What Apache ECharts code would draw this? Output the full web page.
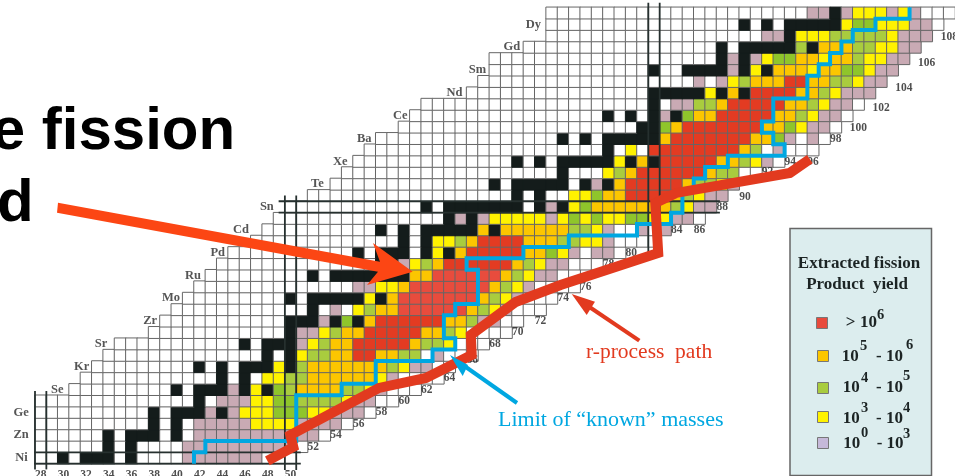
<!DOCTYPE html>
<html>
<head>
<meta charset="utf-8">
<style>html,body{margin:0;padding:0;background:#fff;overflow:hidden}#c{width:955px;height:476px}</style>
<script src="https://cdn.jsdelivr.net/npm/echarts@6/dist/echarts.min.js"></script>
</head>
<body>
<div id="c"></div>
<script>
// neutron numbers and proton numbers of the chart
const neutronNumbers = []; for (let n = 28; n <= 108; n++) neutronNumbers.push(n);
const protonNumbers = []; for (let z = 28; z <= 67; z++) protonNumbers.push(z);

// yield class of each cell, by row: "N+code" opens a run of cells, the last number closes the row
// w none, k stable, p 10^0-10^3, y 10^3-10^4, g/G 10^4-10^5, o 10^5-10^6, r/R >10^6
const cellRuns = {
28:"28w 30k 31w 32k 35w 36k 37w 41p 48w 51",
29:"28w 34k 35w 36k 37w 41p 51w 52",
30:"28w 34k 35w 36k 39w 40k 41w 42p 53w 54",
31:"28w 38k 39w 40k 41w 42p 47y 51p 55w 56",
32:"28w 38k 39w 40k 43p 44k 45p 46y 49G 52y 54p 57w 58",
33:"28w 42k 43w 44p 47y 49G 51g 55y 56p 58w 60",
34:"31w 40k 41w 42k 45p 46k 47y 48k 49G 50g 51o 55g 57y 58p 59w 62",
35:"32w 44k 45w 46k 47w 48y 50g 52o 58y 59p 60w 64",
36:"33w 42k 43w 44k 45w 46k 49y 50k 51g 52o 59g 60y 61p 63w 65",
37:"34w 48k 49w 50k 51y 52g 54o 56R 58o 60g 62w 63p 64w 67",
38:"35w 46k 47w 48k 51p 52y 53g 54o 56R 61o 62g 64y 65w 68",
39:"38w 50k 51p 53y 54g 55o 57R 62o 64g 65y 66w 70",
40:"39w 50k 53p 54k 55G 56k 57o 58R 64o 66g 67p 69w 71",
41:"40w 52k 53w 54p 55w 56y 57g 58o 60r 66o 67g 68y 69p 70w 73",
42:"41w 50k 51w 52k 57y 58k 59o 60r 67o 68g 69y 70p 71w 74",
43:"42w 56p 58y 60o 61r 68o 69g 70y 71p 72w 76",
44:"43w 52k 53w 54k 61o 63r 69o 70g 71y 72p 74w 76",
45:"44w 58k 60p 61y 62g 63o 64R 70o 71g 72y 73p 75w 78",
46:"45w 56k 57w 58k 61w 62k 63y 64k 65o 66R 71o 73G 74y 75p 76w 77p 79w 80",
47:"47w 60k 61w 62k 63y 65g 66o 67R 71o 74g 76y 78p 79w 83",
48:"48w 58k 59w 60k 61w 62k 67o 68k 69o 75g 77y 78p 79w 81p 82w 83p 84",
49:"49w 64k 65p 66k 67p 68y 73p 74y 75G 76y 77G 78y 80G 82y 84p 86w 87",
50:"50w 62k 63w 64k 71w 72k 73p 74k 75y 76G 77o 84g 85y 86p 88",
51:"52w 70k 71w 72k 73w 75y 77G 78o 80R 84o 85g 86y 87p 89",
52:"54w 68k 69w 70k 75w 76k 77p 78k 79o 80R 85o 86g 88y 89p 90",
53:"55w 74k 75w 78y 79g 80o 81R 87o 88g 90w 92",
54:"56w 70k 71w 72k 73w 74k 79y 80k 81o 82k 83R 88o 90g 91y 92p 93w 94",
55:"57w 78k 79w 80y 81w 82R 90o 91g 92w 93p 94w 97",
56:"58w 74k 75w 76k 77w 78k 83o 84R 91o 93G 94p 95w 96p 97w 98",
57:"60w 81k 83G 84o 85R 92o 94G 95y 96p 98w 99",
58:"61w 78k 79w 80k 81w 82k 83p 84k 85G 86o 88R 93o 95g 96y 97p 99w 100",
59:"62w 82k 83w 84p 86g 88o 89R 94o 96g 97y 98p 100w 101",
60:"66w 82k 87y 88k 89o 90k 91R 95o 97g 98y 99p 102",
61:"67w 86p 87w 88p 89y 90g 91o 94R 96o 98g 100y 101p 103",
62:"68w 82k 83w 85k 89p 90k 91y 92k 93o 96y 97o 99G 101y 102p 104",
63:"68w 88k 89p 90k 91p 92y 93G 95o 97y 98o 100g 101y 103p 105",
64:"71w 88k 89w 90k 95g 96k 97o 100g 102y 104p 106",
65:"73w 92p 94k 95y 98g 103y 104p 107",
66:"73w 90k 91w 92k 93w 94k 99y 100G 102y 105p 107w 108",
67:"73w 96p 98k 99p 100y 103p 104y 105p 106w 109"
};
const classColors = {w:'#ffffff',k:'#141c1b',p:'#c9aab4',y:'#fff200',g:'#a9cc3e',G:'#8fc52b',o:'#fcc600',r:'#e84c3d',R:'#e33b22'};

// element names on the staircase
const elementNames = ['Ni','Zn','Ge','Se','Kr','Sr','Zr','Mo','Ru','Pd','Cd','Sn','Te','Xe','Ba','Ce','Nd','Sm','Gd','Dy'];
const elementZ = [28,30,32,34,36,38,40,42,44,46,48,50,52,54,56,58,60,62,64,66];
const elementN = [26.9,27.0,27.0,30.05,32.33,33.9,38.3,40.32,42.16,44.27,46.38,48.57,52.96,55.07,57.18,60.34,65.17,67.27,70.26,72.1];

// neutron-number labels
const magicLabelN = [28,30,32,34,36,38,40,42,44,46,48,50,52,54,56,58,60,62,64,66,68,70,72,74,76,78,80,84,86,88,90,92,94,96,98,100,102,104,106,108];
const magicLabelZ = [26.5,26.5,26.5,26.5,26.5,26.5,26.5,26.5,26.5,26.5,26.5,26.5,29,30,31,32,33,34,35,36.6,38,39,40,42,43,45,46,48,48,49.97,50.9,53.1,53.97,53.97,55.93,56.9,58.65,60.46,62.65,64.93];

// closed-shell double lines
const shellLines = [
 [[27.5,33.87],[27.5,27]],[[28.5,33.87],[28.5,27]],
 [[49.5,51],[49.5,26.95]],[[50.5,51],[50.5,26.95]],
 [[81.5,67.9],[81.5,45.98]],[[82.5,67.9],[82.5,45.98]],
 [[27,28.5],[50.9,28.5]],[[27,27.5],[50.9,27.5]],
 [[48.95,50.5],[87.8,50.5]],[[48.95,49.5],[87.8,49.5]]
];
// limit of known masses
const knownLimit = [[41.5,27.5],[41.5,28.5],[42.5,28.5],[42.5,29.5],[50.5,29.5],[50.5,33.5],[54.5,33.5],[54.5,34.5],[57.5,34.5],[57.5,36.5],[62.5,36.5],[62.5,37.5],[64.5,37.5],[64.5,38.5],[63.5,38.5],[63.5,40.5],[64.5,40.5],[64.5,41.5],[66.5,41.5],[66.5,44.5],[65.5,44.5],[65.5,45.5],[70.5,45.5],[70.5,46.5],[74.5,46.5],[74.5,47.5],[80.5,47.5],[80.5,48.5],[83.5,48.5],[83.5,49.5],[84.5,49.5],[84.5,51.5],[85.5,51.5],[85.5,52.5],[86.5,52.5],[86.5,53.5],[88.5,53.5],[88.5,54.5],[93.5,54.5],[93.5,55.5],[92.5,55.5],[92.5,56.5],[91.5,56.5],[91.5,57.5],[92.5,57.5],[92.5,59.5],[95.5,59.5],[95.5,61.5],[96.5,61.5],[96.5,62.5],[97.5,62.5],[97.5,63.5],[98.5,63.5],[98.5,64.5],[99.5,64.5],[99.5,65.5],[101.5,65.5],[101.5,66.5],[104.5,66.5],[104.5,67.5]];
// r-process path
const rProcess = [[47.96,27.74],[50.24,28.96],[49.98,30.01],[57.79,34.14],[61.92,35.01],[65.95,37.03],[65.87,38.78],[69.82,41.67],[73.77,43.16],[82.37,45.97],[82.11,50.35],[83.95,51.23],[93.96,52.98],[95.72,54.2]];

// legend
const legendTitle = ['Extracted fission','Product  yield'];
const legendColors = ['#e84a3c','#fcc600','#a9cc3e','#fff200','#c6b9d9'];
const SERIF = '"Liberation Serif","Times New Roman",serif';

const cells = [];
Object.keys(cellRuns).forEach(k => {
  const z = +k, parts = cellRuns[k].split(' ');
  for (let i = 0; i < parts.length - 1; i++) {
    const from = parseInt(parts[i]), to = parseInt(parts[i + 1]), code = parts[i].slice(-1);
    for (let n = from; n < to; n++) {
      const c = classColors[code];
      if (n > 108) continue;
      cells.push({value:[n - 28, z - 28, code === 'w' ? 0 : 1],
        itemStyle:{color:c, borderColor: code === 'k' ? '#141c1b' : '#666666', borderWidth:1}});
    }
  }
});

function lineSeries(data, color, width, z, join) {
  return {type:'line', xAxisIndex:1, yAxisIndex:1, data:data, showSymbol:false, symbol:'none', clip:false, silent:true, z:z,
    animation:false, lineStyle:{color:color, width:width, join:join||'miter', cap:'butt'}};
}
function txt(x, y, text, font, fill, align) {
  return {type:'text', x:x, y:y, z:20, silent:true,
    style:{text:text, font:font, fill:fill, textAlign:align||'left', textVerticalAlign:'middle'}};
}
function poly(points, fill) { return {type:'polygon', z:15, silent:true, shape:{points:points}, style:{fill:fill}}; }
function seg(points, stroke, w) { return {type:'polyline', z:15, silent:true, shape:{points:points}, style:{stroke:stroke, lineWidth:w, fill:null}}; }

const LF = 'bold 17px ' + SERIF, SF = 'bold 14.5px ' + SERIF;
const graphicEls = [
  txt(-8.3, 132, 'e fission', 'bold 60px "Liberation Sans",Arial,sans-serif', '#000'),
  txt(-3, 204, 'd', 'bold 60px "Liberation Sans",Arial,sans-serif', '#000'),
  poly([[58,202.7],[380,261.7],[373,243],[412.7,271.7],[367,285],[378,271.7],[57,212.7]], '#fc4614'),
  seg([[639.3,340.7],[585,304]], '#e23a1f', 4),
  poly([[571.7,294],[595,301.7],[586.7,315]], '#e23a1f'),
  seg([[517,403],[463,365]], '#00a7e1', 4),
  poly([[450,355],[468,365],[462.7,376]], '#00a7e1'),
  txt(586, 352, 'r-process  path', '21.5px ' + SERIF, '#e23a1f'),
  txt(498, 420, 'Limit of \u201cknown\u201d masses', '22px ' + SERIF, '#00a7e1'),
  {type:'rect', z:12, silent:true, shape:{x:790,y:228.5,width:141.5,height:247}, style:{fill:'#dcedee',stroke:'#666',lineWidth:1.5}},
  txt(859, 264, legendTitle[0], LF, '#1c2424', 'center'),
  txt(857, 285, legendTitle[1], LF, '#1c2424', 'center'),
  {type:'rect',z:13,silent:true,shape:{x:816.5,y:317.5,width:11,height:11},style:{fill:legendColors[0],stroke:'#777',lineWidth:1}},
  {type:'rect',z:13,silent:true,shape:{x:817.5,y:350.5,width:11,height:11},style:{fill:legendColors[1],stroke:'#777',lineWidth:1}},
  {type:'rect',z:13,silent:true,shape:{x:817.5,y:382.5,width:11,height:11},style:{fill:legendColors[2],stroke:'#777',lineWidth:1}},
  {type:'rect',z:13,silent:true,shape:{x:817.5,y:411.5,width:11,height:11},style:{fill:legendColors[3],stroke:'#777',lineWidth:1}},
  {type:'rect',z:13,silent:true,shape:{x:817.5,y:437.5,width:11,height:11},style:{fill:legendColors[4],stroke:'#777',lineWidth:1}},
  txt(845.7,323,'>',LF,'#1c2424'), txt(860,323,'10',LF,'#1c2424'), txt(877,315,'6',SF,'#1c2424'),
  txt(841.7,356.7,'10',LF,'#1c2424'), txt(860,346.7,'5',SF,'#1c2424'), txt(876,356.7,'- 10',LF,'#1c2424'), txt(906,345,'6',SF,'#1c2424'),
  txt(842.7,387.7,'10',LF,'#1c2424'), txt(861,378,'4',SF,'#1c2424'), txt(876,387.7,'- 10',LF,'#1c2424'), txt(903,376.7,'5',SF,'#1c2424'),
  txt(842.7,418.7,'10',LF,'#1c2424'), txt(861,408,'3',SF,'#1c2424'), txt(876,418.7,'- 10',LF,'#1c2424'), txt(903,408,'4',SF,'#1c2424'),
  txt(843.3,444,'10',LF,'#1c2424'), txt(861,433,'0',SF,'#1c2424'), txt(876.7,444,'- 10',LF,'#1c2424'), txt(903,434,'3',SF,'#1c2424')
];

const chart = echarts.init(document.getElementById('c'), null, {renderer:'canvas'});
chart.setOption({
  animation:false,
  backgroundColor:'#fff',
  grid:{left:35, top:7.3, width:922.6, height:456.4, containLabel:false},
  xAxis:[
    {type:'category', data:neutronNumbers, show:false},
    {type:'value', min:27.5, max:108.5, show:false, splitLine:{show:false}}
  ],
  yAxis:[
    {type:'category', data:protonNumbers, show:false},
    {type:'value', min:27.5, max:67.5, show:false, splitLine:{show:false}}
  ],
  series:[
    {type:'heatmap', data:cells, progressive:0, silent:true, z:2, animation:false, emphasis:{disabled:true}},
    ...shellLines.map(l => lineSeries(l, '#26302f', 1.8, 3)),
    {type:'scatter', xAxisIndex:1, yAxisIndex:1, clip:false, silent:true, z:4, symbolSize:1, itemStyle:{color:'transparent'},
      data:elementNames.map((name,i)=>({value:[elementN[i],elementZ[i]],name:name})),
      label:{show:true, position:'left', distance:0, formatter:p=>p.name, fontFamily:'Liberation Serif', fontWeight:'bold', fontSize:12.5, color:'#2a2a2a'}},
    {type:'scatter', xAxisIndex:1, yAxisIndex:1, clip:false, silent:true, z:4, symbolSize:1, itemStyle:{color:'transparent'},
      data:magicLabelN.map((n,i)=>({value:[n,magicLabelZ[i]],name:String(n)})),
      label:{show:true, position:'inside', formatter:p=>p.name, fontFamily:'Liberation Serif', fontWeight:'bold', fontSize:11.5, color:'#222'}},
    lineSeries(knownLimit, '#00a7e1', 4, 5),
    lineSeries(rProcess, '#e23a1f', 10, 6)
  ],
  graphic:{elements:graphicEls}
});
</script>
</body>
</html>
